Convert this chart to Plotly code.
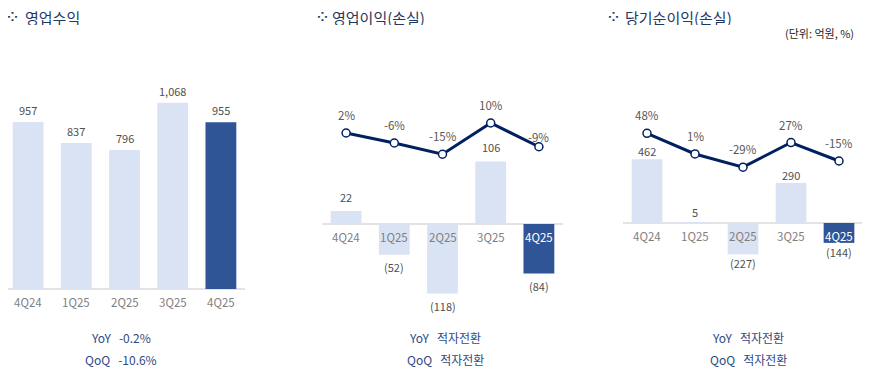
import plotly.graph_objects as go

# ---------------- data ----------------
quarters = ["4Q24", "1Q25", "2Q25", "3Q25", "4Q25"]

revenue = [957, 837, 796, 1068, 955]
op_income = [22, -52, -118, 106, -84]
op_margin = [2, -6, -15, 10, -9]
net_income = [462, 5, -227, 290, -144]
net_margin = [48, 1, -29, 27, -15]

titles = ["영업수익", "영업이익(손실)", "당기순이익(손실)"]
yoy_text = ["-0.2%", "적자전환", "적자전환"]
qoq_text = ["-10.6%", "적자전환", "적자전환"]
unit_text = "(단위: 억원, %)"

# ---------------- style ----------------
OFF = 8  # page body margin
W, H = 870 - OFF, 379 - OFF
FONT = "Noto Sans CJK KR"
LIGHT = "#dae3f3"
DARK = "#2f5597"
NAVY = "#002060"
TITLE_C = "#1f3864"
SUB_C = "#2e4a86"
VAL_C = "#505050"
PCT_C = "#595959"
CAT_C = "#7f7f7f"
NB = "\u00a0"

bar_colors = [LIGHT, LIGHT, LIGHT, LIGHT, DARK]


def px_x(x):
    return (x - OFF) / W


def px_y(y):
    return 1 - (y - OFF) / H


def rng(base_px, scale):
    # axis range so that value 0 sits at window pixel base_px and 1 unit = scale px
    b = base_px - OFF
    return [-(H - b) / scale, b / scale]


fig = go.Figure()

# chart geometry (window pixels)
doms = [(4, 245), (322, 563), (623, 863)]
bar_base = [289, 224, 223]
bar_scale = [0.1745, 0.59, 0.138]
line_zero = [None, 135.5, 154.4]
line_scale = [None, 1.25, 0.44]

bar_series = [revenue, op_income, net_income]
line_series = [None, op_margin, net_margin]

xa = ["x", "x2", "x3"]
ya_bar = ["y", "y2", "y4"]
ya_line = [None, "y3", "y5"]

annotations = []

for i in range(3):
    vals = bar_series[i]
    fig.add_trace(go.Bar(
        x=quarters, y=vals, xaxis=xa[i], yaxis=ya_bar[i],
        marker=dict(color=bar_colors, line=dict(width=0)),
        width=0.64, hoverinfo="skip", showlegend=False,
    ))
    # value labels
    for q, v in zip(quarters, vals):
        if v >= 0:
            shift = [12, 14, 8][i] if not (i == 2 and abs(v) < 20) else 10
        else:
            shift = -[0, 12, 9][i]
        lbl = f"{v:,}" if v >= 0 else f"({abs(v):,})"
        annotations.append(dict(
            x=q, y=v, xref=xa[i], yref=ya_bar[i], text=lbl, showarrow=False,
            yshift=shift, yanchor="middle",
            font=dict(family=FONT, size=11, color=VAL_C)))
    # category labels
    for k, q in enumerate(quarters):
        on_dark = (i > 0 and k == 4)
        annotations.append(dict(
            x=q, y=0, xref=xa[i], yref=ya_bar[i], text=q, showarrow=False,
            yshift=-13, yanchor="middle",
            font=dict(family=FONT, size=11.5, color="white" if on_dark else CAT_C)))

    if line_series[i] is not None:
        lv = line_series[i]
        fig.add_trace(go.Scatter(
            x=quarters, y=lv, xaxis=xa[i], yaxis=ya_line[i],
            mode="lines+markers",
            line=dict(color=NAVY, width=3),
            marker=dict(size=8, color="white", line=dict(color=NAVY, width=1.5)),
            hoverinfo="skip", showlegend=False, cliponaxis=False,
        ))
        for k, (q, v) in enumerate(zip(quarters, lv)):
            shift = 18
            if i == 1 and k == 4:
                shift = 10
            annotations.append(dict(
                x=q, y=v, xref=xa[i], yref=ya_line[i], text=f"{v}%",
                showarrow=False, yshift=shift, yanchor="middle",
                font=dict(family=FONT, size=11.5, color=PCT_C)))

# titles (window y ~16 lies close to the figure top, so use a compact box)
title_pos = [(12, 23), (322, 330), (613, 623)]
for (ix, tx), t in zip(title_pos, titles):
    annotations.append(dict(
        x=px_x(ix), y=px_y(16), xref="paper", yref="paper", text="<b>⁘</b>",
        showarrow=False, xanchor="center", yanchor="middle", height=14,
        font=dict(family="DejaVu Sans", size=13, color=TITLE_C)))
    annotations.append(dict(
        x=px_x(tx), y=px_y(17), xref="paper", yref="paper", text=t,
        showarrow=False, xanchor="left", yanchor="middle", height=16,
        font=dict(family=FONT, size=15, color=TITLE_C)))

annotations.append(dict(
    x=px_x(856), y=px_y(33), xref="paper", yref="paper", text=unit_text,
    showarrow=False, xanchor="right", yanchor="middle",
    font=dict(family=FONT, size=11, color="#262626")))

# YoY / QoQ
centers = [121.5, 445, 748]
for c, yo, qo in zip(centers, yoy_text, qoq_text):
    annotations.append(dict(
        x=px_x(c), y=px_y(337), xref="paper", yref="paper",
        text=f"YoY{NB}{NB}{NB}{yo}", showarrow=False, xanchor="center",
        yanchor="middle", font=dict(family=FONT, size=12, color=SUB_C)))
    annotations.append(dict(
        x=px_x(c), y=px_y(359), xref="paper", yref="paper",
        text=f"QoQ{NB}{NB}{NB}{qo}", showarrow=False, xanchor="center",
        yanchor="middle", font=dict(family=FONT, size=12, color=SUB_C)))

xcommon = dict(showgrid=False, showticklabels=False, ticks="", showline=False,
               zeroline=False, fixedrange=True)
ycommon = dict(showgrid=False, showticklabels=False, ticks="", showline=False,
               fixedrange=True)

layout = dict(
    width=W, height=H, autosize=False,
    margin=dict(l=0, r=0, t=0, b=0),
    paper_bgcolor="white", plot_bgcolor="white",
    font=dict(family=FONT),
    annotations=annotations,
    showlegend=False,
)
n = len(quarters)
for i in range(3):
    xname = "xaxis" if i == 0 else f"xaxis{i + 1}"
    L, R = doms[i]
    ppu = (R - L) / n
    Lc = max(L, OFF)
    Rc = min(R, OFF + W)
    r0 = -0.5 + (Lc - L) / ppu
    r1 = n - 0.5 - (R - Rc) / ppu
    layout[xname] = dict(xcommon, domain=[px_x(Lc), px_x(Rc)],
                         range=[r0, r1], anchor=ya_bar[i])
yb_names = ["yaxis", "yaxis2", "yaxis4"]
for i in range(3):
    layout[yb_names[i]] = dict(ycommon, domain=[0, 1], anchor=xa[i],
                               range=rng(bar_base[i], bar_scale[i]),
                               zeroline=True, zerolinecolor="#e3e3e3",
                               zerolinewidth=1.5)
layout["yaxis3"] = dict(ycommon, domain=[0, 1], anchor="x2", overlaying="y2",
                        range=rng(line_zero[1], line_scale[1]), zeroline=False)
layout["yaxis5"] = dict(ycommon, domain=[0, 1], anchor="x3", overlaying="y4",
                        range=rng(line_zero[2], line_scale[2]), zeroline=False)

fig.update_layout(**layout)
fig.write_html("out.html")
